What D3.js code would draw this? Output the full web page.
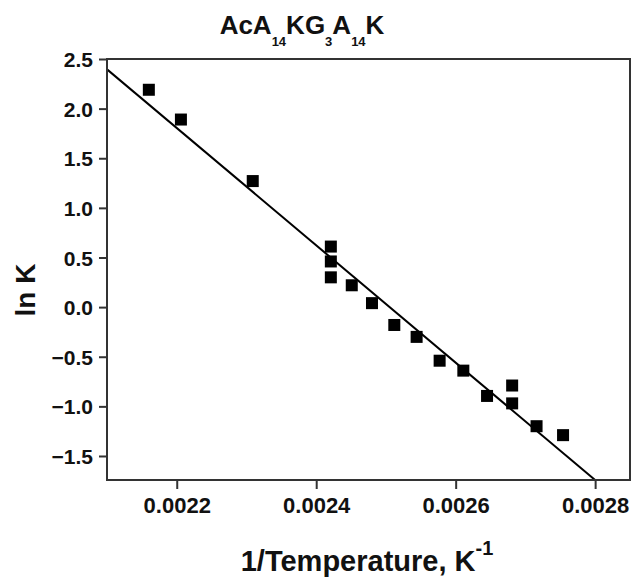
<!DOCTYPE html>
<html>
<head>
<meta charset="utf-8">
<script src="https://cdn.jsdelivr.net/npm/d3@7"></script>
<style>
	body { margin: 0; background: #fff; }
	svg text { font-family: "Liberation Sans", Arial, sans-serif; font-weight: bold; fill: #111; }
</style>
</head>
<body>
<svg width="633" height="578"></svg>
<script>
// Data
const invT = [0.00216, 0.002206, 0.002309, 0.002421, 0.002421, 0.002421, 0.002451, 0.00248,
	0.002512, 0.002544, 0.002577, 0.002611, 0.002645, 0.002681, 0.002681, 0.002716, 0.002754];
const lnK = [2.19, 1.89, 1.27, 0.61, 0.46, 0.30, 0.22, 0.04,
	-0.18, -0.30, -0.54, -0.64, -0.895, -0.79, -0.97, -1.20, -1.29];
// fitted line end points
const fitX = [0.0021, 0.0028];
const fitY = [2.396, -1.742];
const xTicks = [0.0022, 0.0024, 0.0026, 0.0028];
const yTicks = [-1.5, -1.0, -0.5, 0.0, 0.5, 1.0, 1.5, 2.0, 2.5];

const margin = { top: 59, right: 3, bottom: 98, left: 107 },
	width = 633 - margin.left - margin.right,
	height = 578 - margin.top - margin.bottom;

const svg = d3.select("svg");
const g = svg.append("g").attr("transform", `translate(${margin.left},${margin.top})`);

const x = d3.scaleLinear().domain([0.0021, 0.00285]).range([0, width]);
const y = d3.scaleLinear().domain([-1.742, 2.5]).range([height, 0]);

// clip for the fit line
g.append("clipPath").attr("id", "plotclip")
	.append("rect").attr("width", width).attr("height", height);

// fit line
const line = d3.line().x((d) => x(d[0])).y((d) => y(d[1]));
g.append("path")
	.datum(d3.zip(fitX, fitY))
	.attr("clip-path", "url(#plotclip)")
	.attr("fill", "none")
	.attr("stroke", "#000")
	.attr("stroke-width", 2)
	.attr("d", line);

// square markers
const s = 12;
g.selectAll(".pt")
	.data(d3.zip(invT, lnK))
	.join("rect")
	.attr("class", "pt")
	.attr("x", (d) => x(d[0]) - s / 2)
	.attr("y", (d) => y(d[1]) - s / 2)
	.attr("width", s)
	.attr("height", s)
	.attr("fill", "#000");

// axes
const xAxis = g.append("g")
	.attr("transform", `translate(0,${height})`)
	.call(d3.axisBottom(x).tickValues(xTicks).tickSize(9).tickPadding(8).tickFormat(d3.format(".4f")));
xAxis.selectAll("text").style("font-size", "22px");

const yAxis = g.append("g")
	.call(d3.axisLeft(y).tickValues(yTicks).tickSize(8).tickPadding(6).tickFormat(d3.format(".1f")));
yAxis.selectAll("text").style("font-size", "21px").attr("dy", "0.36em");

[xAxis, yAxis].forEach((a) => {
	a.select(".domain").remove();
	a.selectAll("line").attr("stroke", "#333").attr("stroke-width", 2);
});

// frame
g.append("rect")
	.attr("width", width)
	.attr("height", height)
	.attr("fill", "none")
	.attr("stroke", "#333")
	.attr("stroke-width", 2);

// title
const title = svg.append("text")
	.attr("x", 302)
	.attr("y", 34)
	.attr("text-anchor", "middle")
	.style("font-size", "26px");
[["AcA", 0], ["14", 1], ["KG", 0], ["3", 1], ["A", 0], ["14", 1], ["K", 0]].forEach((p, i, arr) => {
	const prev = i > 0 ? arr[i - 1][1] : 0;
	title.append("tspan")
		.attr("dy", p[1] && !prev ? 12 : !p[1] && prev ? -12 : 0)
		.style("font-size", p[1] ? "13px" : "26px")
		.text(p[0]);
});

// y label
svg.append("text")
	.attr("transform", `translate(35,290) rotate(-90)`)
	.attr("text-anchor", "middle")
	.style("font-size", "28px")
	.text("ln K");

// x label
const xl = svg.append("text")
	.attr("x", 367)
	.attr("y", 571)
	.attr("text-anchor", "middle")
	.style("font-size", "29px");
xl.append("tspan").text("1/Temperature, K");
xl.append("tspan").attr("dy", -16).style("font-size", "20px").text("-1");
</script>
</body>
</html>
